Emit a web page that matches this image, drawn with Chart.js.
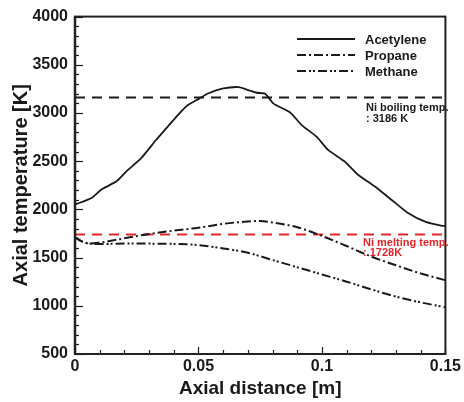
<!DOCTYPE html>
<html>
<head>
<meta charset="utf-8">
<script src="https://cdn.jsdelivr.net/npm/chart.js@4/dist/chart.umd.min.js"></script>
<style>
html,body{margin:0;padding:0;background:#fff;}
#wrap{width:464px;height:402px;}
</style>
</head>
<body>
<div id="wrap"><canvas id="c" width="464" height="402"></canvas></div>
<script>
// ---- data ----
const seriesNames = ['Acetylene', 'Propane', 'Methane'];
const xAcetylene = [0, 0.0067, 0.0107, 0.0168, 0.0208, 0.0268, 0.0328, 0.0369, 0.0422, 0.0456, 0.0503, 0.0536, 0.0596, 0.0663, 0.0704, 0.0737, 0.0770, 0.0804, 0.0871, 0.0918, 0.0978, 0.1025, 0.1092, 0.1146, 0.1213, 0.1280, 0.1347, 0.1420, 0.1487, 0.15];
const acetylene  = [2050, 2119, 2206, 2291, 2394, 2531, 2720, 2840, 2994, 3081, 3149, 3200, 3252, 3269, 3235, 3210, 3200, 3097, 3005, 2875, 2754, 2617, 2497, 2360, 2240, 2103, 1965, 1870, 1830, 1828];
const xPropane = [0, 0.003, 0.006, 0.01, 0.02, 0.03, 0.04, 0.05, 0.06, 0.07, 0.075, 0.08, 0.09, 0.1, 0.11, 0.12, 0.13, 0.14, 0.15];
const propane  = [1710, 1665, 1645, 1655, 1700, 1745, 1780, 1810, 1850, 1875, 1880, 1865, 1815, 1725, 1620, 1510, 1420, 1335, 1265];
const xMethane = [0, 0.003, 0.006, 0.01, 0.02, 0.03, 0.04, 0.05, 0.06, 0.07, 0.08, 0.09, 0.1, 0.11, 0.12, 0.13, 0.14, 0.15];
const methane  = [1710, 1665, 1645, 1640, 1645, 1645, 1642, 1630, 1595, 1550, 1475, 1400, 1325, 1250, 1170, 1095, 1035, 985];
const refXs = [0, 0.15];
const niBoiling = 3160;   // drawn position of the boiling-temperature line
const niMelting = 1740;   // drawn position of the melting-temperature line
const boilingLabel = ['Ni boiling temp.', ': 3186 K'];
const meltingLabel = ['Ni melting temp.', ': 1728K'];
const xTickLabels = ['0', '0.05', '0.1', '0.15'];
const yTickLabels = ['500', '1000', '1500', '2000', '2500', '3000', '3500', '4000'];

const pts = (xs, ys) => xs.map((x, i) => ({x, y: ys[i]}));
const RED = '#e3262b';
const INK = '#1a1a1a';

const datasets = [
  {label: seriesNames[0], data: pts(xAcetylene, acetylene), borderColor: INK, borderWidth: 1.8, borderDash: [], tension: 0.2, legend: true},
  {label: seriesNames[1], data: pts(xPropane, propane), borderColor: INK, borderWidth: 2, borderDash: [9, 3, 2, 3], cubicInterpolationMode: 'monotone', legend: true},
  {label: seriesNames[2], data: pts(xMethane, methane), borderColor: INK, borderWidth: 2, borderDash: [9, 3, 2, 2, 2, 3], cubicInterpolationMode: 'monotone', legend: true},
  {label: 'boil', data: pts(refXs, [niBoiling, niBoiling]), borderColor: INK, borderWidth: 2, borderDash: [10, 7]},
  {label: 'melt', data: pts(refXs, [niMelting, niMelting]), borderColor: RED, borderWidth: 2, borderDash: [10, 7]}
];
datasets.forEach(d => { d.pointRadius = 0; d.fill = false; });

const decor = {
  id: 'decor',
  afterDatasetsDraw(chart) {
    const ctx = chart.ctx, a = chart.chartArea;
    const xs = chart.scales.x, ys = chart.scales.y;
    ctx.save();
    // inward ticks
    ctx.strokeStyle = INK; ctx.lineWidth = 1.2; ctx.setLineDash([]);
    for (let v = 500; v <= 4000; v += 100) {
      const y = Math.round(ys.getPixelForValue(v)) + 0.5;
      const len = (v % 500 === 0) ? 8 : 4;
      ctx.beginPath(); ctx.moveTo(a.left, y); ctx.lineTo(a.left + len, y); ctx.stroke();
    }
    for (let i = 0; i <= 15; i++) {
      const x = Math.round(xs.getPixelForValue(i / 100)) + 0.5;
      const len = (i % 5 === 0) ? 7 : 4;
      ctx.beginPath(); ctx.moveTo(x, a.bottom); ctx.lineTo(x, a.bottom - len); ctx.stroke();
    }
    // frame
    ctx.lineWidth = 2; ctx.strokeStyle = '#222';
    ctx.strokeRect(a.left, a.top, a.right - a.left, a.bottom - a.top);
    ctx.lineWidth = 2.5;
    ctx.beginPath(); ctx.moveTo(a.left, a.top); ctx.lineTo(a.left, a.bottom); ctx.stroke();
    // legend
    ctx.font = 'bold 13px "Liberation Sans", Arial, sans-serif';
    ctx.textBaseline = 'middle'; ctx.textAlign = 'left';
    let ly = 39;
    chart.data.datasets.filter(d => d.legend).forEach(d => {
      ctx.strokeStyle = d.borderColor; ctx.lineWidth = d.borderWidth;
      ctx.setLineDash(d.borderDash);
      ctx.beginPath(); ctx.moveTo(297, ly); ctx.lineTo(355, ly); ctx.stroke();
      ctx.setLineDash([]);
      ctx.fillStyle = INK; ctx.fillText(d.label, 365, ly + 1);
      ly += 16;
    });
    // reference annotations
    ctx.font = 'bold 11px "Liberation Sans", Arial, sans-serif';
    ctx.fillStyle = INK;
    const by = ys.getPixelForValue(niBoiling);
    ctx.fillText(boilingLabel[0], 366, by + 10);
    ctx.fillText(boilingLabel[1], 366, by + 21);
    ctx.fillStyle = RED;
    const my = ys.getPixelForValue(niMelting);
    ctx.fillText(meltingLabel[0], 363, my + 9);
    ctx.fillText(meltingLabel[1], 363, my + 19);
    ctx.restore();
  }
};

new Chart(document.getElementById('c'), {
  type: 'line',
  data: {datasets},
  options: {
    responsive: false,
    animation: false,
    layout: {padding: {top: 14, right: 16, left: 0, bottom: 0}},
    plugins: {legend: {display: false}, tooltip: {enabled: false}},
    scales: {
      x: {
        type: 'linear', min: 0, max: 0.15,
        afterFit: s => { s.height = 48; },
        afterBuildTicks: s => { s.ticks = xTickLabels.map(t => ({value: parseFloat(t)})); },
        ticks: {
          padding: 3, color: INK, maxRotation: 0, autoSkip: false,
          font: {family: '"Liberation Sans", Arial, sans-serif', size: 16, weight: 'bold'},
          callback: (v, i) => xTickLabels[i]
        },
        grid: {display: false, drawTicks: false},
        border: {display: false},
        title: {display: true, text: 'Axial distance [m]', color: INK, padding: {top: 0, bottom: 2},
          font: {family: '"Liberation Sans", Arial, sans-serif', size: 19, weight: 'bold'}}
      },
      y: {
        type: 'linear', min: 500, max: 4000,
        afterFit: s => { s.width = 75; },
        afterBuildTicks: s => { s.ticks = yTickLabels.map(t => ({value: parseFloat(t)})); },
        ticks: {
          padding: 7, color: INK, autoSkip: false,
          font: {family: '"Liberation Sans", Arial, sans-serif', size: 16, weight: 'bold'},
          callback: (v, i) => yTickLabels[i]
        },
        grid: {display: false, drawTicks: false},
        border: {display: false},
        title: {display: true, text: 'Axial temperature [K]', color: INK, padding: {top: 9, bottom: 0},
          font: {family: '"Liberation Sans", Arial, sans-serif', size: 20, weight: 'bold'}}
      }
    }
  },
  plugins: [decor]
});
</script>
</body>
</html>
